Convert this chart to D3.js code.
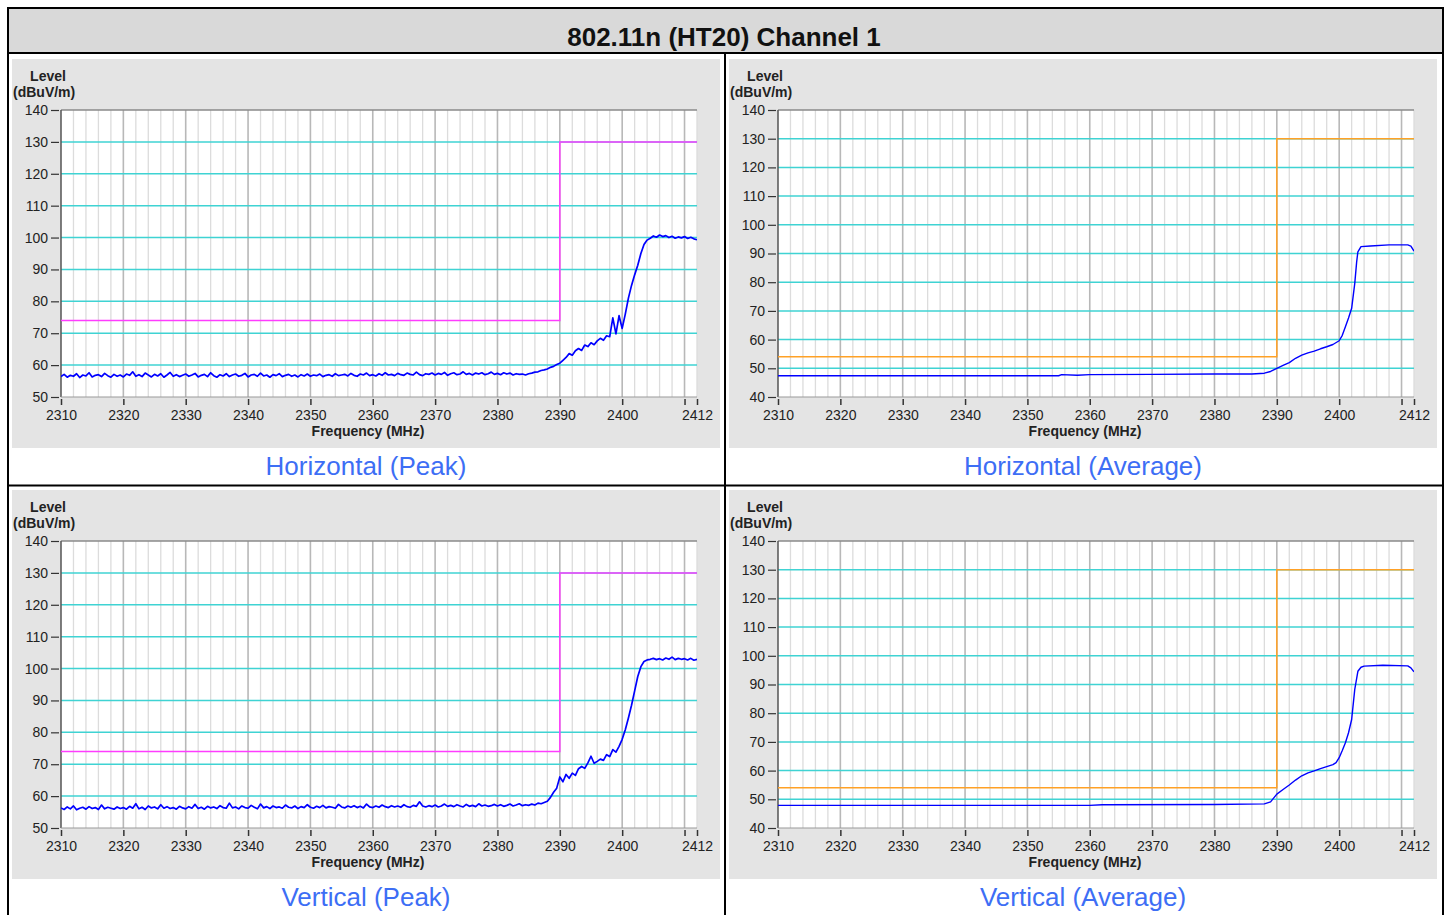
<!DOCTYPE html>
<html>
<head>
<meta charset="utf-8">
<script src="https://cdnjs.cloudflare.com/ajax/libs/d3/7.8.5/d3.min.js"></script>
<style>
	body { margin: 0; background: #fff; }
	svg text { font-family: "Liberation Sans", Arial, sans-serif; }
</style>
</head>
<body>
<svg id="chart" width="1451" height="915"></svg>
<script>

// ---------- data ---------- //

var TITLE = "802.11n (HT20) Channel 1";

var xTicks = [2310, 2320, 2330, 2340, 2350, 2360, 2370, 2380, 2390, 2400, 2410, 2412];
var xTickLabels = ["2310", "2320", "2330", "2340", "2350", "2360", "2370", "2380", "2390", "2400", "", "2412"];
var peakYTicks = [50, 60, 70, 80, 90, 100, 110, 120, 130, 140];
var avgYTicks = [40, 50, 60, 70, 80, 90, 100, 110, 120, 130, 140];

// peak sweeps, one reading every 0.5 MHz from 2310 MHz
var PEAK_START = 2310, PEAK_STEP = 0.5;

var horizPeak = [
	56.4, 57.1, 56.2, 56.8, 56.5, 57.3, 56.1, 56.9, 56.6, 57.6, 56.3, 56.8, 57.0, 56.4, 57.4, 56.7, 56.2, 57.1, 56.5, 56.9,
	56.3, 57.2, 56.8, 57.9, 56.5, 57.0, 56.4, 57.5, 56.9, 56.3, 57.1, 56.6, 57.3, 56.2, 56.9, 57.7, 56.5, 57.0, 56.4, 56.8,
	57.2, 56.5, 56.9, 57.4, 56.3, 56.8, 57.1, 56.4, 57.6, 56.7, 56.2, 57.0, 56.6, 57.3, 56.4, 56.9, 57.2, 56.5, 56.8, 57.4,
	56.3, 56.9, 57.1, 56.5, 57.5, 56.6, 56.9, 56.2, 57.0, 56.7, 57.3, 56.4, 56.8, 57.1, 56.5, 56.9, 56.3, 57.0, 56.6, 57.2,
	56.5, 56.9, 56.7, 57.2, 56.4, 56.8, 57.0, 56.5, 57.3, 56.7, 56.9, 57.1, 56.6, 57.4, 56.8, 56.5, 57.2, 56.9, 57.5, 56.7,
	57.0, 56.6, 57.3, 56.8, 57.6, 56.9, 57.1, 56.7, 57.4, 57.0, 56.8, 57.5, 57.1, 56.9, 57.8, 57.0, 56.7, 57.3, 57.1, 57.5,
	56.9, 57.4, 57.1, 57.7, 56.8, 57.3, 57.6, 57.0, 57.2, 57.9, 57.1, 57.4, 56.9, 57.5, 57.2, 57.6, 57.0, 57.3, 57.8, 57.1,
	57.4, 57.0, 57.6, 57.2, 57.5, 56.9, 57.3, 57.1, 57.2, 56.9, 57.3, 57.5, 57.8, 57.9, 58.3, 58.5, 58.8, 59.3, 59.6, 60.2,
	60.6, 61.5, 62.4, 63.6, 63.1, 64.5, 65.2, 64.6, 66.3, 65.8, 67.0, 66.4, 67.6, 68.4, 67.8, 69.2, 68.9, 74.8, 69.8, 75.5,
	71.5, 76.0, 81.0, 85.0, 88.3, 91.3, 95.0, 97.8, 99.2, 99.8, 100.5, 100.1, 100.8, 100.3, 100.6, 100.0, 100.4, 99.8, 100.2, 99.9,
	100.3, 99.7, 100.1, 99.6, 99.3
];

var vertPeak = [
	56.3, 55.8, 56.6, 56.0, 56.9, 55.7, 56.2, 56.5, 55.9, 56.7, 56.1, 56.4, 55.8, 57.2, 56.0, 56.5, 56.2, 55.9, 56.6, 56.1,
	56.4, 55.9, 56.8, 56.2, 57.6, 56.0, 56.5, 55.8, 56.9, 56.3, 56.6, 56.0, 57.3, 56.2, 56.7, 56.1, 56.4, 55.9, 56.8, 56.3,
	56.0, 56.7, 56.2, 57.4, 56.1, 56.5, 55.9, 56.8, 56.3, 56.6, 56.1, 57.0, 56.4, 56.2, 57.8, 56.3, 56.6, 56.0, 56.9, 56.4,
	56.2, 57.1, 56.5, 56.0, 57.5, 56.3, 56.7, 56.1, 56.9, 56.4, 56.6, 56.2, 57.2, 56.5, 56.3, 56.9, 56.1, 56.7, 56.4, 57.3,
	56.5, 56.2, 56.8, 56.4, 57.1, 56.3, 56.7, 56.5, 56.2, 57.4, 56.6, 56.3, 56.9, 56.5, 57.0, 56.4, 56.8, 56.3, 57.5, 56.6,
	56.4, 56.9, 56.5, 57.2, 56.7, 56.4, 57.0, 56.6, 56.9, 56.5, 57.3, 56.7, 56.5, 57.1, 56.8, 58.2, 56.9, 56.6, 57.0, 56.7,
	57.2, 56.6, 56.9, 57.5, 56.8, 57.1, 56.7, 57.3, 56.9, 56.6, 57.4, 56.8, 57.1, 56.7, 57.6, 56.9, 57.2, 56.8, 57.0, 57.4,
	56.9, 57.3, 56.8, 57.1, 57.5, 56.9, 57.2, 57.6, 57.0, 57.3, 57.1, 57.5, 57.2, 57.8, 57.6, 58.0, 58.4, 59.6, 61.2, 62.5,
	66.0, 64.5, 66.8, 65.6, 67.2, 66.5, 68.6, 69.3, 68.7, 70.4, 72.5, 70.3, 70.9, 71.6, 71.2, 73.0, 72.4, 74.6, 73.8, 75.6,
	77.8, 80.8, 84.5, 88.5, 93.0, 97.5, 100.6, 102.2, 102.7, 102.9, 103.2, 102.8, 103.1, 102.7, 103.3, 102.9, 103.6, 102.8, 103.2, 102.9,
	103.1, 102.7, 103.2, 102.6, 102.9
];

// average sweeps, [MHz, dBuV/m]
var horizAvg = [
	[2310, 47.4], [2355, 47.4], [2355.5, 47.8], [2358, 47.6], [2360, 47.8], [2370, 47.9], [2380, 48.0],
	[2386, 48.0], [2388, 48.3], [2389, 48.9], [2390, 50.0], [2391, 51.0], [2392, 52.0], [2393, 53.5],
	[2394, 54.6], [2395, 55.4], [2396, 56.0], [2397, 56.8], [2398, 57.5], [2399, 58.3], [2400, 59.6],
	[2400.5, 61.5], [2401, 64.5], [2401.5, 67.5], [2402, 70.9], [2402.5, 79.6], [2402.8, 87.0],
	[2403, 90.6], [2403.5, 92.4], [2405, 92.6], [2408, 93.0], [2411, 93.0], [2411.5, 92.6], [2412, 90.8]
];

var vertAvg = [
	[2310, 47.9], [2360, 47.9], [2362, 48.1], [2380, 48.2], [2388, 48.4], [2389, 49.1], [2390, 51.8],
	[2391, 53.4], [2392, 55.0], [2393, 56.7], [2394, 58.2], [2395, 59.2], [2396, 59.9], [2397, 60.7],
	[2398, 61.4], [2399, 62.1], [2399.5, 62.8], [2400, 64.5], [2400.5, 67.0], [2401, 69.7], [2401.5, 73.2],
	[2402, 77.8], [2402.5, 88.3], [2403, 94.6], [2403.5, 96.0], [2404, 96.4], [2407, 96.7], [2411, 96.5],
	[2411.5, 95.8], [2412, 94.4]
];

var peakLimit = [[2310, 74], [2390, 74], [2390, 130], [2412, 130]];
var avgLimit = [[2310, 54], [2390, 54], [2390, 130], [2412, 130]];

var captions = ["Horizontal (Peak)", "Horizontal (Average)", "Vertical (Peak)", "Vertical (Average)"];


// ---------- layout ---------- //

var PLOT_W = 636,
	PLOT_H = 287,
	COL_DX = 717,
	ROW_DY = 431,
	FONT = "'Liberation Sans', Arial, sans-serif";

function peakPairs(arr) {
	return arr.map(function(v, i) { return [PEAK_START + i * PEAK_STEP, v]; });
}

var panels = [
	{row: 0, col: 0, trace: peakPairs(horizPeak), limit: peakLimit, limitColor: "#ff3cff", yTicks: peakYTicks, lw: 1.7},
	{row: 0, col: 1, trace: horizAvg, limit: avgLimit, limitColor: "#ffa126", yTicks: avgYTicks, lw: 1.4},
	{row: 1, col: 0, trace: peakPairs(vertPeak), limit: peakLimit, limitColor: "#ff3cff", yTicks: peakYTicks, lw: 1.7},
	{row: 1, col: 1, trace: vertAvg, limit: avgLimit, limitColor: "#ffa126", yTicks: avgYTicks, lw: 1.4}
];

var svg = d3.select("#chart");

// title row
svg.append("rect")
	.attr("x", 8).attr("y", 8)
	.attr("width", 1435).attr("height", 45)
	.attr("fill", "#d9d9d9");

svg.append("text")
	.text(TITLE)
	.attr("x", 724).attr("y", 46)
	.attr("text-anchor", "middle")
	.attr("font-size", 26)
	.attr("font-weight", "bold")
	.attr("fill", "#111");

panels.forEach(function(p, k) {
	var ox = p.col * COL_DX,
		oy = p.row * ROW_DY;

	// gray card
	svg.append("rect")
		.attr("x", 12 + ox).attr("y", 59 + oy)
		.attr("width", 708).attr("height", 389)
		.attr("fill", "#e4e4e4");

	svg.append("text").text("Level")
		.attr("x", 48 + ox).attr("y", 81 + oy)
		.attr("text-anchor", "middle")
		.attr("font-size", 14).attr("font-weight", "bold").attr("fill", "#222");
	svg.append("text").text("(dBuV/m)")
		.attr("x", 13 + ox).attr("y", 97 + oy)
		.attr("font-size", 14).attr("font-weight", "bold").attr("fill", "#222");

	svg.append("text").text("Frequency (MHz)")
		.attr("x", 368 + ox).attr("y", 436 + oy)
		.attr("text-anchor", "middle")
		.attr("font-size", 14).attr("font-weight", "bold").attr("fill", "#222");

	svg.append("text").text(captions[k])
		.attr("x", 366 + ox).attr("y", 475 + oy)
		.attr("text-anchor", "middle")
		.attr("font-size", 26).attr("fill", "#3d6ef5");

	var g = svg.append("g")
		.attr("transform", "translate(" + (61 + ox) + "," + (110 + oy) + ")");

	var x = d3.scaleLinear().domain([2310, 2412]).range([0, PLOT_W]);
	var y = d3.scaleLinear().domain(d3.extent(p.yTicks)).range([PLOT_H, 0]);

	g.append("rect")
		.attr("width", PLOT_W).attr("height", PLOT_H)
		.attr("fill", "#fff");

	// vertical grid: every 2 MHz, darker every 10 MHz
	var minor = d3.range(2312, 2413, 2);
	g.selectAll(".vgrid")
		.data(minor)
		.enter()
		.append("line")
			.attr("class", "vgrid")
			.attr("x1", function(d) { return x(d); })
			.attr("x2", function(d) { return x(d); })
			.attr("y1", 0).attr("y2", PLOT_H)
			.attr("stroke", function(d) { return d % 10 === 0 ? "#b8b8b8" : "#dcdcdc"; })
			.attr("stroke-width", function(d) { return d % 10 === 0 ? 1.6 : 1.3; });

	// horizontal grid
	g.selectAll(".hgrid")
		.data(p.yTicks.slice(1, -1))
		.enter()
		.append("line")
			.attr("class", "hgrid")
			.attr("x1", 0).attr("x2", PLOT_W)
			.attr("y1", function(d) { return y(d); })
			.attr("y2", function(d) { return y(d); })
			.attr("stroke", "#3fd3d3")
			.attr("stroke-width", 1.5);

	// frame
	g.append("line").attr("x1", 0).attr("x2", PLOT_W).attr("y1", 0).attr("y2", 0)
		.attr("stroke", "#8a8a8a").attr("stroke-width", 1.5);
	g.append("line").attr("x1", 0).attr("x2", 0).attr("y1", 0).attr("y2", PLOT_H)
		.attr("stroke", "#555").attr("stroke-width", 1.5);
	g.append("line").attr("x1", 0).attr("x2", PLOT_W).attr("y1", PLOT_H).attr("y2", PLOT_H)
		.attr("stroke", "#999").attr("stroke-width", 1);

	var clipId = "clip" + k;
	g.append("clipPath").attr("id", clipId)
		.append("rect").attr("width", PLOT_W).attr("height", PLOT_H);

	var line = d3.line()
		.x(function(d) { return x(d[0]); })
		.y(function(d) { return y(d[1]); });

	g.append("path")
		.datum(p.limit)
		.attr("d", line)
		.attr("fill", "none")
		.attr("stroke", p.limitColor)
		.attr("stroke-width", 1.5);

	g.append("path")
		.datum(p.trace)
		.attr("clip-path", "url(#" + clipId + ")")
		.attr("d", line)
		.attr("fill", "none")
		.attr("stroke", "#0000ff")
		.attr("stroke-width", p.lw)
		.attr("stroke-linejoin", "round");

	// axes
	var yAxis = g.append("g")
		.attr("transform", "translate(-2,0)")
		.call(d3.axisLeft(y).tickValues(p.yTicks).tickSize(8).tickPadding(3));
	yAxis.select(".domain").remove();
	yAxis.selectAll("line").attr("stroke", "#333").attr("stroke-width", 1.2);
	yAxis.selectAll("text")
		.attr("font-family", FONT).attr("font-size", 14).attr("fill", "#222");

	var xAxis = g.append("g")
		.attr("transform", "translate(0," + (PLOT_H + 2) + ")")
		.call(d3.axisBottom(x).tickValues(xTicks).tickSize(6).tickPadding(5)
			.tickFormat(function(d, i) { return xTickLabels[i]; }));
	xAxis.select(".domain").remove();
	xAxis.selectAll("line").attr("stroke", "#333").attr("stroke-width", 1.5);
	xAxis.selectAll("text")
		.attr("font-family", FONT).attr("font-size", 14).attr("fill", "#222");
});

// table rules
var rules = [
	[8, 7, 8, 915], [1443, 7, 1443, 915], [7, 8, 1444, 8],
	[7, 53, 1444, 53], [725, 53, 725, 915], [7, 485.5, 1444, 485.5]
];
svg.selectAll(".rule")
	.data(rules)
	.enter()
	.append("line")
		.attr("class", "rule")
		.attr("x1", function(d) { return d[0]; })
		.attr("y1", function(d) { return d[1]; })
		.attr("x2", function(d) { return d[2]; })
		.attr("y2", function(d) { return d[3]; })
		.attr("stroke", "#000")
		.attr("stroke-width", 2);

</script>
</body>
</html>
